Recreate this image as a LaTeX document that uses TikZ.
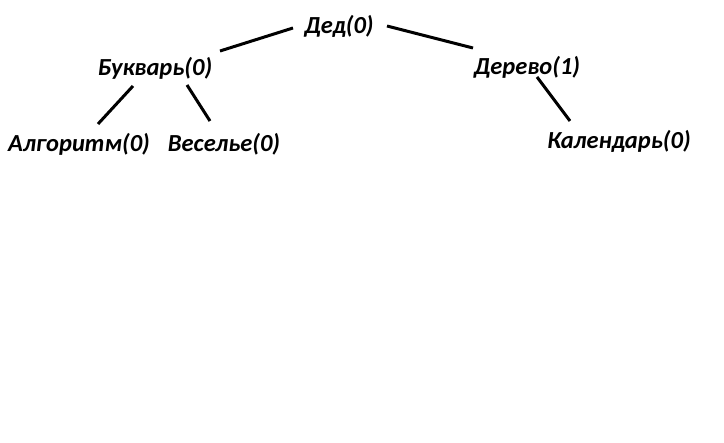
\documentclass[tikz,border=0pt]{standalone}
\usepackage{fontspec}
\setmainfont{Carlito}
\begin{document}
\begin{tikzpicture}[x=1pt,y=-1pt,
  lbl/.style={font=\fontsize{24.5}{28}\selectfont\bfseries\itshape, inner sep=0pt, anchor=base},
  edge/.style={line width=3pt}]
\useasboundingbox (0,0) rectangle (724,443);
\fill[white] (0,0) rectangle (724,443);
\node[lbl] (ded) at (339,34) {Дед(0)};
\node[lbl] (buk) at (155,76) {Букварь(0)};
\node[lbl] (der) at (527,75) {Дерево(1)};
\node[lbl] (alg) at (79,152) {Алгоритм(0)};
\node[lbl] (ves) at (224,152) {Веселье(0)};
\node[lbl] (kal) at (619,149) {Календарь(0)};
\coordinate (e1a) at (293,28); \coordinate (e1b) at (220,51);
\coordinate (e2a) at (387,26); \coordinate (e2b) at (473,48);
\coordinate (e3a) at (133,86); \coordinate (e3b) at (98,124);
\coordinate (e4a) at (187,85); \coordinate (e4b) at (210,121);
\coordinate (e5a) at (537,77); \coordinate (e5b) at (570,121);
\draw[edge] (e1a) -- (e1b);
\draw[edge] (e2a) -- (e2b);
\draw[edge] (e3a) -- (e3b);
\draw[edge] (e4a) -- (e4b);
\draw[edge] (e5a) -- (e5b);
\end{tikzpicture}
\end{document}
